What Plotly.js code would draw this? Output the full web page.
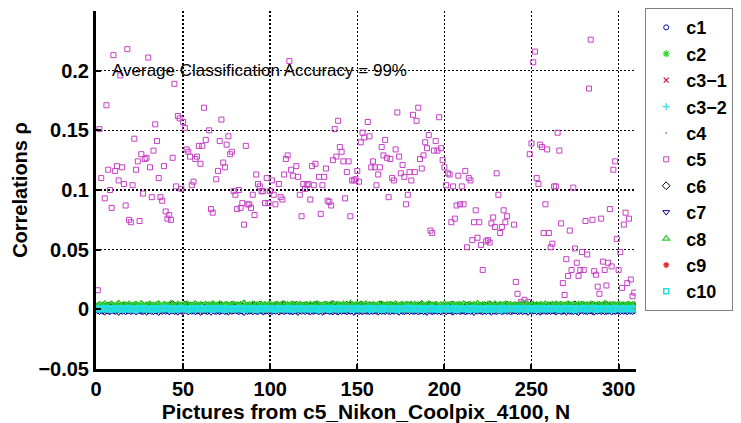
<!DOCTYPE html>
<html><head><meta charset="utf-8">
<script src="https://cdn.plot.ly/plotly-3.0.1.min.js"></script>
<style>html,body{margin:0;padding:0;background:#fff}#chart{width:741px;height:423px}</style>
</head><body><div id="chart"></div>
<script>
// Picture index N runs 1..309; correlations.
const xTicks = [0, 50, 100, 150, 200, 250, 300];
const yTicks = [-0.05, 0, 0.05, 0.1, 0.15, 0.2];
const yTickText = ['\u22120.05', '0', '0.05', '0.1', '0.15', '0.2'];
const legendNames = ['c1','c2','c3\u22121','c3\u22122','c4','c5','c6','c7','c8','c9','c10'];

// c5 correlation per picture (null = hidden / not readable)
const c5Rho = [
0.016,0.151,0.110,null,0.093,0.171,0.117,0.100,0.085,0.213,
0.116,0.120,0.108,0.196,0.119,0.105,0.087,0.218,0.075,0.073,
0.104,0.143,0.117,0.124,0.074,0.130,0.097,0.126,0.127,0.211,
0.119,0.094,0.133,0.155,0.141,0.110,0.094,0.091,0.120,0.082,
0.076,0.079,0.075,0.127,0.189,0.103,0.162,0.160,0.101,0.157,
0.152,0.134,0.132,0.128,0.104,0.107,0.126,0.128,0.137,0.122,
0.137,0.169,0.142,null,0.150,0.084,0.081,null,0.109,0.116,
0.141,0.159,0.123,0.119,0.138,0.145,0.130,0.132,0.099,0.096,
0.084,0.100,0.085,0.089,0.071,0.137,0.088,0.088,0.085,0.096,
0.079,0.113,0.105,0.103,0.099,0.099,0.089,0.110,0.089,0.099,
0.108,0.096,0.088,null,0.105,0.094,0.092,0.113,0.126,0.129,
0.208,0.117,0.112,null,0.120,0.111,0.096,0.078,0.105,0.101,
0.104,0.105,0.092,0.120,0.104,0.122,null,0.111,0.080,0.104,
0.111,0.118,0.091,0.090,0.087,0.125,0.151,0.128,0.158,0.136,
0.132,0.124,0.093,0.115,0.124,0.078,0.108,0.108,0.109,0.116,
0.107,0.140,0.148,0.144,null,0.157,0.145,0.119,0.124,0.119,
0.104,0.113,0.119,0.136,0.129,0.142,0.127,0.094,0.126,0.110,
0.108,0.134,0.165,0.128,0.114,0.121,0.111,0.088,0.096,0.115,
0.108,0.163,0.115,0.158,0.169,0.126,0.118,0.129,0.140,0.135,
0.146,0.066,0.064,0.133,0.141,0.133,0.161,0.135,0.125,0.119,
0.104,0.114,0.113,0.073,0.103,0.076,0.087,0.112,0.088,0.103,
0.088,0.116,0.052,0.110,0.108,0.058,0.073,0.083,0.060,0.073,
0.054,0.033,null,0.057,0.058,0.056,0.072,0.077,0.069,0.114,
0.096,0.064,0.069,0.083,0.073,0.078,null,null,null,0.071,
0.023,0.013,null,0.006,null,0.008,null,0.006,0.130,0.139,
0.207,0.216,0.110,0.105,0.138,0.136,0.064,0.088,0.134,0.064,
0.052,0.055,0.103,0.103,0.148,0.133,0.072,0.022,0.012,0.042,
0.028,0.066,0.033,0.102,0.051,0.039,0.028,0.033,0.048,0.033,
0.074,0.046,0.185,0.226,0.075,0.032,0.029,0.019,0.013,0.076,
0.040,0.033,0.020,0.039,0.084,0.036,0.117,0.124,0.059,0.033,
0.048,0.018,0.071,0.081,0.022,0.076,0.025,0.011,0.014
];

// Other cameras' correlations, in units of 1e-4
const c1e4 = [
-3,2,-7,0,-5,4,-2,-9,1,-4,3,-6,-1,5,-8,-2,2,-5,0,-3,
1,-6,-2,3,-8,0,-4,4,-1,-7,2,-3,-5,1,-9,0,3,-4,-2,-6,
-1,4,-5,-2,1,-8,2,-3,0,-6,5,-4,-1,3,-7,0,-2,2,-5,-3,
3,-4,0,-7,2,-1,-5,1,-3,4,-8,-2,0,-6,3,-1,-4,2,-9,0,
-2,1,-6,3,-3,0,-5,4,-1,-7,2,-4,1,-2,-8,3,-3,0,-5,2,
-4,0,3,-6,-1,2,-8,1,-3,-5,4,-2,0,-7,2,-4,1,-1,-6,3,
0,-5,2,-3,-7,1,-1,4,-6,-2,3,-4,0,-8,2,-3,-1,5,-5,0,
-6,2,-1,-4,3,-8,0,-2,1,-5,4,-3,-7,2,0,-4,-1,3,-6,1,
2,-3,-5,1,-1,-7,3,-2,0,-6,2,-4,4,-1,-8,1,-3,0,-5,3,
-1,-4,2,-7,0,3,-3,-5,1,-2,4,-6,0,-3,2,-8,1,-1,-4,3,
-5,0,3,-2,-6,1,-3,4,-1,-7,2,0,-4,3,-2,-5,1,-9,0,2,
-3,4,-1,-6,2,-4,0,-2,3,-7,1,-3,-5,2,0,-6,4,-1,-3,1,
0,-5,2,-3,1,-8,3,-1,-4,2,-6,0,4,-2,-5,1,-3,3,-7,0,
2,-2,-6,1,-4,3,-1,-7,0,2,-3,-5,4,-1,-8,2,0,-4,1,-2,
-4,3,-1,-5,2,0,-7,1,-3,4,-2,-6,0,3,-4,-1,2,-8,1,-3,
0,-5,2,-2,3,-6,1,-1,-4];
const c2e4 = [
12,18,9,15,22,11,14,7,19,13,10,16,24,12,8,17,14,20,11,15,
9,16,13,21,10,14,18,8,15,12,25,11,17,13,9,19,14,10,16,22,
13,8,17,12,20,15,10,18,11,14,23,9,16,12,19,13,7,15,21,11,
16,12,9,19,14,11,22,13,17,10,15,20,12,8,18,14,11,16,24,13,
10,15,20,12,17,9,14,21,11,16,13,19,8,15,12,22,14,10,17,13,
18,11,14,9,23,13,16,12,19,10,15,8,20,14,11,17,13,21,12,16,
14,20,10,16,12,18,9,15,22,13,11,17,14,19,10,16,12,24,13,9,
15,11,19,13,8,17,14,21,12,16,10,18,13,15,20,11,14,9,17,12,
11,16,13,22,10,15,18,12,9,17,14,20,13,11,16,23,12,15,10,18,
17,12,15,9,20,14,11,18,13,16,10,22,12,15,19,11,14,8,17,13,
13,19,10,16,12,21,14,9,18,15,11,17,13,24,12,16,10,19,14,11,
16,10,18,13,15,9,20,12,17,14,11,22,13,16,10,18,15,12,19,14,
12,17,14,10,21,13,16,11,19,15,9,18,12,14,20,13,10,17,15,23,
14,11,16,20,12,18,10,15,13,22,11,17,14,9,19,12,16,13,21,10,
15,12,19,14,10,17,13,23,11,16,14,9,18,12,20,15,11,17,13,16,
12,18,14,10,16,21,13,15,11];
const c31e4 = [
4,9,1,6,-2,7,3,10,0,5,8,2,-3,6,4,11,1,7,3,-1,
6,2,8,-1,5,10,3,0,7,4,9,-2,6,1,8,3,12,5,0,7,
3,7,0,9,5,-3,6,2,10,4,1,8,3,-1,7,5,11,2,6,0,
8,1,5,3,11,-2,6,4,9,0,7,2,5,10,-1,6,3,8,1,4,
5,10,2,7,-1,4,8,3,6,0,12,5,2,7,4,-3,9,1,6,3,
7,0,4,9,2,6,-2,8,3,5,1,10,4,7,0,6,3,11,2,5,
2,8,5,-1,7,3,9,1,6,4,-2,8,5,2,10,3,7,0,6,4,
9,3,6,1,8,-1,5,7,2,11,4,0,6,3,9,1,7,5,-2,8,
4,6,0,10,3,7,2,5,-1,8,4,6,12,1,5,3,9,-2,7,2,
6,1,8,4,-1,7,3,10,5,2,6,0,9,4,7,-3,5,2,8,3,
3,9,5,0,7,2,11,4,6,-1,8,3,5,1,10,4,6,0,7,2,
8,4,-2,6,3,9,1,5,7,2,10,-1,6,4,8,0,5,3,11,1,
5,2,7,4,-1,9,6,3,8,0,5,10,2,7,-2,4,6,1,9,3,
1,7,3,10,5,0,6,8,-1,4,7,2,9,5,3,11,0,6,4,8,
6,3,9,-1,5,2,8,4,7,0,10,3,6,1,8,5,-2,7,4,9,
2,6,4,8,0,5,3,9,1];
const c32e4 = [
7,3,10,5,1,8,4,12,6,2,9,5,0,7,11,3,6,9,2,8,
5,10,2,7,4,13,6,1,9,3,8,5,11,0,6,4,10,7,2,9,
8,4,6,11,1,7,3,9,5,12,2,6,8,4,10,0,7,5,9,3,
4,9,7,2,10,5,0,8,6,3,11,4,7,1,9,6,12,2,5,8,
10,2,6,8,3,5,12,1,7,4,9,6,2,11,5,3,8,0,7,4,
6,11,3,7,9,1,5,8,4,13,2,7,5,10,3,6,1,9,4,8,
3,8,5,12,2,6,9,4,7,0,10,5,3,8,6,11,2,7,4,9,
9,4,7,1,6,10,3,8,5,2,12,6,4,9,1,7,5,10,3,6,
5,12,2,8,4,7,6,11,0,9,3,5,8,2,10,6,4,7,13,1,
7,3,9,5,10,2,6,4,8,1,11,5,7,3,9,0,6,12,4,8,
4,8,6,2,11,7,3,9,5,10,1,6,8,4,12,2,7,5,9,3,
10,5,1,7,4,9,6,2,12,3,8,5,0,7,10,4,6,11,2,8,
6,2,9,4,8,5,11,1,7,3,10,6,4,9,2,8,5,12,3,7,
3,10,5,7,1,9,4,8,6,12,2,5,9,3,7,11,4,6,0,8,
8,4,11,2,6,9,3,7,5,1,10,6,4,8,13,2,7,5,9,3,
5,9,2,7,4,11,6,3,8];
const c4e4 = [
3,0,6,2,-2,5,1,8,-1,4,2,7,0,3,-3,6,2,9,1,4,
-1,5,2,7,0,3,-2,6,4,1,8,-1,3,5,0,7,2,-3,4,6,
2,6,-1,4,8,0,3,5,-2,7,1,4,9,2,-1,6,3,0,5,1,
5,1,7,3,-1,6,2,8,0,4,-2,5,3,7,1,-3,6,2,9,0,
4,-2,6,1,5,3,8,0,2,-1,7,4,1,6,3,9,0,5,-2,3,
1,7,3,-1,5,2,6,0,8,4,-3,3,6,1,7,2,-1,5,4,8,
6,2,-2,5,3,9,1,4,0,7,2,5,-1,6,3,0,8,4,1,-2,
3,8,1,4,-1,6,2,7,5,0,3,-3,9,2,5,1,6,-1,4,7,
0,5,3,-2,7,1,4,6,2,8,-1,3,5,0,6,4,-2,7,2,5,
7,1,4,2,6,-1,5,3,9,0,4,2,-3,6,1,8,3,5,0,4,
2,6,-1,5,3,7,0,4,1,8,2,-2,6,3,5,-1,7,2,4,9,
4,0,7,3,-2,5,1,6,2,4,8,0,3,-1,7,2,5,6,-3,3,
1,5,2,8,0,4,6,-1,3,7,2,5,-2,4,9,1,6,3,0,7,
5,-1,4,2,6,3,8,1,-2,5,0,7,3,4,-1,6,2,9,1,3,
3,7,0,5,2,-3,6,4,1,8,3,-1,5,2,7,0,4,6,-2,5,
2,6,-1,4,8,1,3,5,0];
const c6e4 = [
24,31,19,27,36,22,28,17,33,25,21,29,38,23,26,18,30,24,35,27,
20,28,33,22,25,39,26,19,30,24,34,21,27,23,31,37,25,20,29,26,
22,30,25,41,19,27,32,24,28,21,35,26,23,30,18,29,36,25,22,31,
27,20,33,24,29,22,38,26,21,30,25,34,19,28,31,23,27,35,24,20,
29,25,32,21,43,27,24,30,19,26,33,22,28,36,25,20,31,24,29,37,
23,28,21,34,26,30,24,39,22,27,19,32,25,29,35,21,26,30,23,28,
33,24,20,29,27,36,22,31,25,19,28,34,23,30,26,40,21,27,32,24,
26,30,22,35,24,28,33,20,27,31,23,37,25,29,21,26,34,22,30,28,
21,27,38,24,30,23,29,26,35,20,28,32,25,22,31,27,19,33,26,29,
34,22,28,25,31,24,42,27,21,30,26,33,23,28,36,25,20,29,24,32,
25,30,23,27,35,22,29,26,31,20,38,24,28,33,21,27,30,25,34,23,
28,21,32,26,24,37,29,22,30,25,27,33,20,29,24,36,26,31,23,28,
30,24,27,34,22,29,25,31,26,40,21,28,32,24,27,30,23,35,25,29,
22,33,26,28,31,24,36,21,29,27,25,32,23,30,38,26,24,28,34,22,
27,31,24,29,35,22,28,26,33,25,30,21,37,27,24,29,32,23,28,36,
25,30,22,28,33,26,24,31,27];
const c7e4 = [
-14,-20,-9,-17,-24,-12,-16,-21,-8,-15,-19,-11,-26,-13,-18,-10,-22,-15,-12,-19,
-16,-11,-23,-14,-9,-18,-20,-13,-25,-15,-10,-17,-21,-12,-16,-27,-14,-19,-11,-18,
-13,-22,-15,-10,-19,-16,-24,-12,-17,-20,-9,-15,-23,-14,-18,-11,-21,-16,-13,-26,
-18,-12,-16,-21,-14,-25,-10,-17,-19,-13,-22,-15,-11,-20,-16,-24,-12,-18,-14,-9,
-15,-21,-13,-17,-28,-11,-19,-16,-14,-22,-12,-18,-20,-10,-15,-23,-17,-13,-19,-16,
-20,-14,-18,-11,-24,-16,-13,-21,-15,-9,-19,-17,-22,-12,-16,-26,-14,-18,-11,-20,
-12,-17,-23,-15,-19,-10,-16,-21,-13,-25,-18,-14,-11,-20,-16,-22,-13,-17,-24,-15,
-19,-13,-16,-22,-11,-18,-14,-27,-17,-12,-20,-15,-23,-10,-18,-16,-21,-13,-19,-14,
-16,-24,-12,-18,-15,-20,-9,-17,-22,-14,-19,-11,-16,-25,-13,-18,-21,-15,-12,-20,
-14,-19,-17,-11,-23,-16,-13,-20,-18,-26,-12,-15,-21,-17,-10,-19,-14,-22,-16,-13,
-21,-15,-12,-18,-24,-14,-17,-10,-20,-16,-13,-23,-18,-11,-19,-15,-27,-14,-17,-12,
-17,-22,-14,-19,-11,-16,-25,-13,-18,-20,-15,-12,-21,-16,-9,-19,-14,-23,-17,-13,
-15,-20,-18,-12,-22,-14,-17,-26,-11,-19,-16,-13,-21,-15,-24,-18,-10,-17,-20,-14,
-19,-13,-16,-23,-15,-11,-20,-17,-14,-25,-12,-18,-16,-21,-13,-19,-28,-15,-11,-18,
-16,-21,-14,-12,-19,-24,-15,-17,-10,-20,-13,-22,-18,-16,-11,-23,-15,-19,-14,-17,
-20,-13,-18,-15,-22,-12,-16,-19,-14];
const c8e4 = [
32,41,28,35,47,30,26,38,44,33,29,36,52,31,27,40,35,30,45,34,
28,37,42,30,33,49,36,27,31,39,44,29,35,30,38,46,33,28,41,36,
30,34,50,38,27,32,43,35,29,37,31,45,40,28,33,36,48,30,34,39,
27,35,42,31,38,29,44,36,33,30,47,34,28,39,41,32,35,30,43,37,
29,36,31,40,53,34,28,37,32,45,30,38,35,27,42,33,39,31,36,48,
30,34,41,28,37,33,46,35,29,40,32,38,44,31,27,36,42,34,30,39,
35,28,43,32,38,30,47,36,29,34,41,33,37,30,45,28,35,40,32,38,
31,44,36,29,33,51,35,30,38,42,27,34,39,31,46,33,37,29,40,35,
32,38,30,45,34,28,41,36,33,39,30,48,35,29,37,43,31,36,40,33,
28,35,42,31,37,30,44,34,29,38,46,32,36,30,41,35,28,39,33,47,
34,30,38,43,29,36,32,40,35,31,45,37,28,34,41,30,38,33,49,36,
31,39,35,28,42,33,37,30,46,34,29,38,36,32,44,31,35,40,30,37,
33,29,41,36,31,47,34,38,30,35,43,32,37,29,40,34,31,45,36,30,
38,32,35,44,30,37,41,33,29,36,48,34,31,39,35,30,42,37,33,40,
29,36,31,45,34,38,30,41,35,32,37,50,33,29,40,36,31,38,34,43,
35,30,39,33,37,42,31,36,40];
const c9e4 = [
0,-6,3,-2,5,-8,1,-4,7,-1,-5,2,-3,6,-7,0,4,-2,-9,3,
-3,5,-1,-7,2,0,-5,6,-2,3,-8,1,-4,4,-1,-6,7,-3,0,2,
4,-2,-7,1,-4,6,0,-5,3,-1,-9,2,5,-3,0,-6,1,4,-2,-8,
-1,3,-5,0,6,-3,-7,2,-2,4,1,-6,0,5,-4,-1,3,-8,2,-3,
2,-4,1,-6,-1,5,-3,0,7,-5,2,-2,-7,3,0,-4,6,-1,-5,1,
-5,0,4,-3,2,-8,1,-1,5,-6,3,-2,0,-4,6,-7,2,-3,1,4,
1,-3,-6,2,-1,4,-5,0,3,-7,1,5,-2,-4,0,6,-8,2,-1,3,
-4,2,0,-5,3,-2,7,-6,1,-3,4,0,-8,2,-1,5,-4,1,-6,0,
3,-1,-5,4,0,-7,2,-3,6,-2,-4,1,3,-6,0,-1,5,-8,2,-2,
-2,4,-6,1,-3,0,5,-4,2,-7,3,-1,0,6,-5,1,-2,4,-9,2,
0,-5,3,-1,6,-4,1,-7,2,0,-3,5,-6,1,-2,4,0,-8,3,-1,
5,-2,-6,0,3,-4,2,-1,-7,4,1,-3,6,-5,0,2,-8,3,-2,1,
-3,1,4,-6,0,-2,5,-4,2,-7,3,0,-1,6,-5,1,-3,4,-8,2,
1,-4,-1,3,-6,2,0,-5,4,-2,7,-3,1,-7,0,5,-4,2,-1,-6,
-2,3,0,-5,4,-1,-7,2,-3,6,0,-4,1,-6,3,-2,5,-8,0,2,
-1,4,-3,0,-6,2,5,-2,-4];
const c10e4 = [
5,-2,8,3,11,0,6,-4,9,2,7,-1,10,4,-3,6,1,12,3,-2,
7,2,-5,9,4,0,11,3,-2,6,8,1,-4,10,5,-1,7,3,13,0,
4,9,-3,6,1,8,-2,11,5,0,7,3,-6,10,2,6,-1,9,4,12,
-2,5,8,1,10,3,-4,7,2,11,0,6,9,-3,4,8,1,5,-1,10,
6,0,12,3,-3,8,5,-1,9,2,7,-5,10,4,1,6,-2,11,3,8,
1,7,-4,9,5,0,10,3,-2,6,12,2,-3,8,4,0,11,5,-1,7,
3,10,-2,6,1,9,4,-5,8,2,11,0,7,-3,5,9,1,6,-1,12,
4,-1,8,2,10,5,-4,7,0,11,3,6,-2,9,1,5,12,-3,7,2,
9,0,6,-3,11,4,1,8,-2,5,10,3,-5,7,2,9,0,6,13,-1,
5,8,-2,10,3,0,7,-4,9,1,6,11,-1,4,8,2,-3,10,5,0,
7,-2,11,4,1,9,-3,6,2,10,0,5,8,-4,12,3,6,-1,9,2,
0,8,4,-3,10,6,1,-2,9,3,7,-5,11,2,5,-1,8,4,10,0,
6,-2,9,3,12,1,-4,7,5,0,10,2,-3,8,4,11,-1,6,3,9,
-1,7,2,10,5,-3,8,0,11,4,-2,6,9,1,-5,10,3,7,0,12,
4,-1,8,2,6,11,-3,5,9,0,7,3,-2,10,1,6,-4,8,12,2,
5,-1,9,3,7,0,10,-2,6];

const FONT = 'Liberation Sans, Arial, Helvetica, sans-serif';

const styles = [
  {d: c1e4,  scale: 1e-4, symbol: 'circle-open',        color: '#0000b8', size: 5,  lw: 1},
  {d: c2e4,  scale: 1e-4, symbol: 'asterisk-open',      color: '#2ed42e', size: 6,  lw: 1.2},
  {d: c31e4, scale: 1e-4, symbol: 'x-thin-open',        color: '#c8102e', size: 5,  lw: 1.2},
  {d: c32e4, scale: 1e-4, symbol: 'cross-thin-open',    color: '#30e0e0', size: 5,  lw: 1.2},
  {d: c4e4,  scale: 1e-4, symbol: 'circle',             color: '#b080b0', size: 2,  lw: 0},
  {d: c5Rho, scale: 1,    symbol: 'square-open',        color: '#c63fc6', size: 5,  lw: 1},
  {d: c6e4,  scale: 1e-4, symbol: 'diamond-open',       color: '#000000', size: 6,  lw: 1},
  {d: c7e4,  scale: 1e-4, symbol: 'triangle-down-open', color: '#00009a', size: 6,  lw: 1},
  {d: c8e4,  scale: 1e-4, symbol: 'triangle-up-open',   color: '#2ecc2e', size: 6,  lw: 1.2},
  {d: c9e4,  scale: 1e-4, symbol: 'asterisk-open',      color: '#e8202a', size: 5,  lw: 1.2},
  {d: c10e4, scale: 1e-4, symbol: 'square-open',        color: '#20e0e0', size: 5,  lw: 1.5}
];

const traces = styles.map((s, i) => {
  const x = [], y = [];
  s.d.forEach((v, k) => { x.push(k + 1); y.push(v === null ? null : v * s.scale); });
  return {
    type: 'scatter', mode: 'markers', name: legendNames[i], x: x, y: y,
    marker: {symbol: s.symbol, size: s.size, color: s.color, line: {color: s.color, width: s.lw}},
    hoverinfo: 'skip'
  };
});

const layout = {
  width: 741, height: 423,
  margin: {l: 96, r: 96, t: 8, b: 54, pad: 0},
  paper_bgcolor: '#ffffff', plot_bgcolor: '#ffffff',
  font: {family: FONT, color: '#000'},
  showlegend: true,
  legend: {
    x: 1.18, xanchor: 'right', y: 1.008, yanchor: 'top',
    bgcolor: '#ffffff', bordercolor: '#808080', borderwidth: 1,
    font: {family: FONT, size: 18, weight: 'bold', color: '#000'},
    itemwidth: 30, traceorder: 'normal', maxheight: 420
  },
  xaxis: {
    range: [0, 310], tickmode: 'array', tickvals: xTicks, ticktext: xTicks.map(String),
    showgrid: true, gridcolor: '#000', griddash: '2px,2px', gridwidth: 1.5,
    zeroline: false, showline: true, linecolor: '#000', linewidth: 3,
    ticks: 'inside', ticklen: 5, tickwidth: 2, tickcolor: '#000',
    tickfont: {family: FONT, size: 20, weight: 'bold'},
    title: {text: 'Pictures from c5_Nikon_Coolpix_4100, N', font: {family: FONT, size: 21, weight: 'bold'}, standoff: 0}
  },
  yaxis: {
    range: [-0.05, 0.25], tickmode: 'array', tickvals: yTicks, ticktext: yTickText,
    showgrid: true, gridcolor: '#000', griddash: '2px,2px', gridwidth: 1.5,
    zeroline: false, showline: true, linecolor: '#000', linewidth: 3,
    ticks: 'inside', ticklen: 5, tickwidth: 2, tickcolor: '#000',
    tickfont: {family: FONT, size: 20, weight: 'bold'},
    title: {text: 'Correlations \u03c1', font: {family: FONT, size: 20, weight: 'bold'}, standoff: 6}
  },
  annotations: [{
    xref: 'x', yref: 'y', x: 8, y: 0.2, xanchor: 'left', yanchor: 'middle',
    text: 'Average Classification Accuracy = 99%', showarrow: false,
    font: {family: FONT, size: 17, color: '#000'}
  }]
};

Plotly.newPlot('chart', traces, layout, {displayModeBar: false, staticPlot: true});
</script>
</body></html>
